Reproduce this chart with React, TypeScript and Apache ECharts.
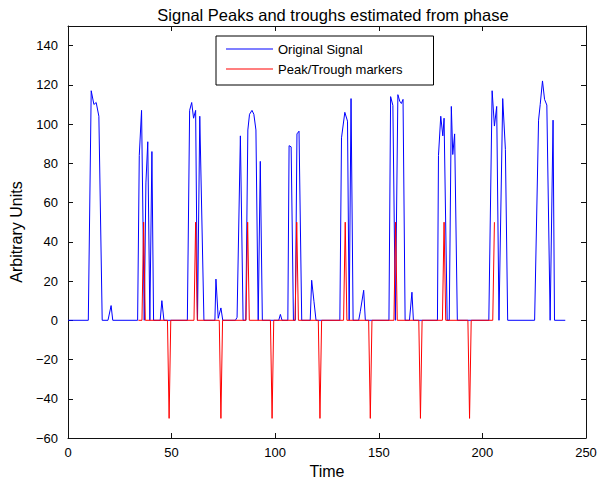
import React, { useEffect, useRef } from "react";
import * as echarts from "echarts";

const chartTitle = "Signal Peaks and troughs estimated from phase";
const xAxisName = "Time";
const yAxisName = "Arbitrary Units";
const seriesNames = ["Original Signal", "Peak/Trough markers"];

const signalTime = [
  0, 9.8, 11.2, 12.5, 13.6, 14.9, 16.5, 19.3, 20.8, 21.6,
  33.6, 34.4, 35.5, 36.8, 37.6, 38.5, 39.5, 40.5, 41.3,
  44.5, 45.3, 46.3,
  57.6, 58.7, 59.7, 60.6, 61.6, 62.5, 63.6, 65.6,
  70.9, 71.4, 72.5, 73.8, 74.7,
  80.8, 81.6, 83.2, 84.5, 85.8, 86.8, 87.6, 88.8, 89.7, 90.7, 91.8, 92.8, 93.8,
  101.7, 102.5, 103.3,
  106.1, 106.7, 107.7, 108.8, 109.7, 110.5, 111.5, 112.8,
  116.9, 117.6, 118.7, 119.7,
  131.2, 132, 133.6, 134.9, 135.7, 136.6, 137.6,
  140.3, 141.1, 142.7, 143.5,
  154.9, 155.7, 156.8, 158, 159.2, 160.1, 160.9, 161.7, 162.7,
  164.8, 166, 166.7,
  178.3, 178.8, 179.9, 180.9, 181.5, 183, 184, 185, 185.7, 186.6, 187.9,
  203.1, 204.7, 205.8, 206.9, 208, 209.8, 211.1, 212.2,
  225.2, 227.1, 227.9, 229, 230, 231.1, 232.7, 234.1, 234.8, 240,
];
const signalValue = [
  0, 0, 117, 110, 111, 104, 0, 0, 7.5, 0,
  0, 84, 107, 0, 70, 91, 0, 86, 0,
  0, 10, 0,
  0, 107, 111, 103, 107, 0, 104, 0,
  0, 21, 1, 6.3, 0,
  0, 1.5, 94, 0, 0, 97, 105, 107, 105, 97, 0, 81, 0,
  0, 3, 0,
  0, 89, 88.4, 0, 0, 95, 96.4, 0,
  0, 20.4, 9.7, 0,
  0, 93, 106, 101.5, 0, 113, 0,
  0, 4.6, 15.3, 0,
  0, 114, 109.5, 0, 115, 111.7, 110.5, 112.6, 0,
  0, 14.3, 0,
  0, 84, 104, 94, 103, 0, 0, 109, 84.5, 95, 0,
  0, 117, 99, 109, 0, 113, 87, 0,
  0, 102, 110, 122, 112.6, 109.7, 0, 102, 0, 0,
];

const markerTime = [
  34, 35.7, 36.5, 37.3,
  48, 48.8, 49.6,
  60.8, 61.6, 62.4,
  73, 73.8, 74.6,
  85.9, 86.7, 87.5,
  97.7, 98.5, 99.3,
  109.6, 110.4, 111.2,
  120.8, 121.6, 122.4,
  133, 133.8, 134.6,
  145.1, 145.9, 146.7,
  157.3, 158.1, 158.9,
  169.3, 170.1, 170.9,
  180.7, 181.5, 182.3,
  193, 193.8, 194.6,
  205, 205.8,
];
const markerValue = [
  0, 0, 50, 0,
  0, -50, 0,
  0, 50, 0,
  0, -50, 0,
  0, 50, 0,
  0, -50, 0,
  0, 50, 0,
  0, -50, 0,
  0, 50, 0,
  0, -50, 0,
  0, 50, 0,
  0, -50, 0,
  0, 50, 0,
  0, -50, 0,
  0, 50,
];

const xMin = 0, xMax = 250, xStep = 50;
const yMin = -60, yMax = 150, yStep = 20;

export default function App() {
  const ref = useRef<HTMLDivElement>(null);
  useEffect(() => {
    if (!ref.current) return;
    const chart = echarts.init(ref.current, null, { renderer: "svg" });
    const font = "'Liberation Sans', Arial, Helvetica, sans-serif";
    const axisColor = "#111";
    const fmt = (v: number) => (v === yMax ? "" : String(v).replace("-", "\u2212"));
    const tick = { show: true, inside: true, length: 5, lineStyle: { color: axisColor, width: 1 } };
    const line = { show: true, onZero: false, lineStyle: { color: axisColor, width: 1 } };
    const signal = signalTime.map((t, i) => [t, signalValue[i]]);
    const markers = markerTime.map((t, i) => [t, markerValue[i]]);
    chart.setOption({
      animation: false,
      backgroundColor: "#ffffff",
      title: {
        text: chartTitle,
        left: 328,
        top: 1,
        textAlign: "center",
        textStyle: { fontFamily: font, fontSize: 16.5, fontWeight: "normal", color: "#000" },
      },
      legend: {
        orient: "vertical",
        left: 216,
        top: 36,
        data: seriesNames,
        icon: "rect",
        itemWidth: 47,
        itemHeight: 1,
        itemGap: 6,
        padding: [6, 31, 9, 10],
        borderColor: "#000",
        borderWidth: 1,
        backgroundColor: "#fff",
        textStyle: { fontFamily: font, fontSize: 13, lineHeight: 14, color: "#000" },
      },
      grid: { left: 65, right: 14, top: 26, bottom: 47, containLabel: false },
      xAxis: [
        {
          type: "value", min: xMin, max: xMax, interval: xStep, position: "bottom",
          name: xAxisName, nameLocation: "middle", nameGap: 22,
          nameTextStyle: { fontFamily: font, fontSize: 16, color: "#000" },
          axisLine: line, axisTick: tick,
          axisLabel: { margin: 8, fontFamily: font, fontSize: 13, color: "#000" },
          splitLine: { show: false },
        },
        {
          type: "value", min: xMin, max: xMax, interval: xStep, position: "top",
          axisLine: line, axisTick: tick, axisLabel: { show: false }, splitLine: { show: false },
        },
      ],
      yAxis: [
        {
          type: "value", min: yMin, max: yMax, interval: yStep, position: "left",
          name: yAxisName, nameLocation: "middle", nameGap: 44,
          nameTextStyle: { fontFamily: font, fontSize: 16, color: "#000" },
          axisLine: line, axisTick: tick,
          axisLabel: { margin: 10, fontFamily: font, fontSize: 13, color: "#000", formatter: fmt, showMaxLabel: false },
          splitLine: { show: false },
        },
        {
          type: "value", min: yMin, max: yMax, interval: yStep, position: "right",
          axisLine: line, axisTick: tick, axisLabel: { show: false }, splitLine: { show: false },
        },
      ],
      series: [
        {
          name: seriesNames[0], type: "line", xAxisIndex: 0, yAxisIndex: 0,
          data: signal, symbol: "none", showSymbol: false,
          lineStyle: { color: "#0000ff", width: 1 }, itemStyle: { color: "#0000ff" },
        },
        {
          name: seriesNames[1], type: "line", xAxisIndex: 0, yAxisIndex: 0,
          data: markers, symbol: "none", showSymbol: false,
          lineStyle: { color: "#ff0000", width: 1 }, itemStyle: { color: "#ff0000" },
        },
      ],
    });
    return () => chart.dispose();
  }, []);
  return <div ref={ref} style={{ position: "fixed", left: 0, top: 0, width: 600, height: 485 }} />;
}
